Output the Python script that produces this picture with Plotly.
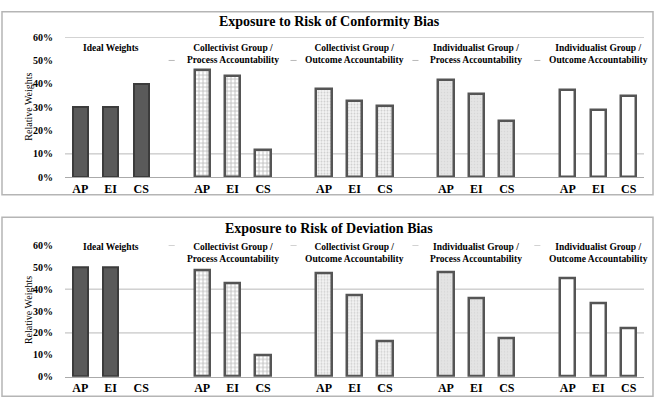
import plotly.graph_objects as go

categories = ["AP", "EI", "CS"]
groups = [["Ideal Weights"],
          ["Collectivist Group /", "Process Accountability"],
          ["Collectivist Group /", "Outcome Accountability"],
          ["Individualist Group /", "Process Accountability"],
          ["Individualist Group /", "Outcome Accountability"]]

conformity = [
    [0.30, 0.30, 0.40],
    [0.458, 0.435, 0.115],
    [0.378, 0.326, 0.304],
    [0.414, 0.354, 0.240],
    [0.371, 0.286, 0.349],
]
deviation = [
    [0.50, 0.50, 0.0],
    [0.486, 0.425, 0.099],
    [0.474, 0.372, 0.160],
    [0.476, 0.357, 0.176],
    [0.449, 0.333, 0.222],
]
titles = ["Exposure to Risk of Conformity Bias", "Exposure to Risk of Deviation Bias"]
y_ticks = [0, 0.1, 0.2, 0.3, 0.4, 0.5, 0.6]
y_ticktext = ["0%", "10%", "20%", "30%", "40%", "50%", "60%"]
grid_top = [0.1, 0.5, 0.6]
grid_bottom = [0.2, 0.4, 0.6]

W, H = 665, 409
SERIF = "Liberation Serif"
EDGE = "#555555"

styles = [
    dict(color="#5a5a5a", line=dict(color="#3c3c3c", width=2)),
    dict(color="white", line=dict(color=EDGE, width=2.5),
         pattern=dict(shape="+", size=4, solidity=0.4, fgcolor="#7a7a7a", bgcolor="white")),
    dict(color="white", line=dict(color=EDGE, width=2.5),
         pattern=dict(shape=".", size=3, solidity=0.35, fgcolor="#a8a8a8", bgcolor="#f4f4f4")),
    dict(color="#e2e2e2", line=dict(color=EDGE, width=2.5),
         pattern=dict(shape=".", size=3, solidity=0.2, fgcolor="#c8c8c8", bgcolor="#e4e4e4")),
    dict(color="white", line=dict(color=EDGE, width=2.5)),
]

def py(p):
    return 1 - p / H

fig = go.Figure()

tickvals = []
ticktext = []
for g in range(len(groups)):
    for i, c in enumerate(categories):
        tickvals.append(g * 4 + i)
        ticktext.append(c)

panels = [(conformity, "x", "y"), (deviation, "x2", "y2")]
for data, xa, ya in panels:
    for g, vals in enumerate(data):
        st = dict(styles[g])
        lw = st["line"]["width"]
        st["line"] = dict(color=st["line"]["color"],
                          width=[lw if v > 0 else 0 for v in vals])
        fig.add_trace(go.Bar(
            x=[g * 4 + i for i in range(3)], y=vals, width=0.5,
            marker=st, xaxis=xa, yaxis=ya, showlegend=False,
            hoverinfo="skip"))

xdom = [65 / W, 644 / W]
axis_x = dict(range=[-0.5, 18.5], domain=xdom, tickvals=tickvals, ticktext=ticktext,
              showgrid=False, zeroline=False, showline=True, linecolor="#aaaaaa",
              linewidth=1, tickfont=dict(family=SERIF, size=12, color="black", weight="bold"),
              ticks="", ticklabelstandoff=0, fixedrange=True)
axis_y = dict(range=[0, 0.6], tickvals=y_ticks, ticktext=y_ticktext, showgrid=False,
              zeroline=False, showline=False,
              tickfont=dict(family=SERIF, size=10, color="black", weight="bold"),
              ticks="", ticklabelstandoff=11, fixedrange=True)

fig.update_layout(
    width=W, height=H, margin=dict(l=0, r=0, t=0, b=0),
    paper_bgcolor="white", plot_bgcolor="white", bargap=0,
    xaxis=dict(axis_x, anchor="y"),
    yaxis=dict(axis_y, domain=[py(177), py(33)], anchor="x"),
    xaxis2=dict(axis_x, anchor="y2"),
    yaxis2=dict(axis_y, domain=[py(382), py(247)], anchor="x2"),
)

shapes = []
for top, bot in [(7, 195), (218, 402)]:
    shapes.append(dict(type="rect", xref="paper", yref="paper", x0=2 / W, x1=653 / W,
                       y0=py(bot), y1=py(top), line=dict(color="#b5b5b5", width=1.5),
                       layer="below"))
for gl, xr, yr in [(grid_top, "x domain", "y"), (grid_bottom, "x2 domain", "y2")]:
    for v in gl:
        shapes.append(dict(type="line", xref=xr, yref=yr, x0=0, x1=1, y0=v, y1=v,
                           line=dict(color="#b8b8b8", width=1), layer="below"))

annotations = []
half = 1.9
for t, tp, l1, ytitle, xr in [(titles[0], 17, 43, 105, "x"), (titles[1], 230, 248, 314, "x2")]:
    annotations.append(dict(text="<b>" + t + "</b>", xref="paper", yref="paper",
                            x=329 / W, y=py(tp), yanchor="middle", showarrow=False,
                            font=dict(family=SERIF, size=14, color="black")))
    annotations.append(dict(text="Relative Weights", xref="paper", yref="paper",
                            x=21 / W, y=py(ytitle), yanchor="middle", textangle=-90,
                            showarrow=False,
                            font=dict(family=SERIF, size=10, color="black")))
    for g, lines in enumerate(groups):
        c = g * 4 + 1
        shapes.append(dict(type="rect", xref=xr, yref="paper", x0=c - half, x1=c + half,
                           y0=py(l1 + 18), y1=py(l1 - 6), fillcolor="white",
                           line=dict(width=0), layer="below"))
        annotations.append(dict(text="<br>".join("<b>" + s + "</b>" for s in lines),
                                xref=xr, yref="paper", x=c, y=py(l1 - 6),
                                yanchor="top", align="center", showarrow=False,
                                font=dict(family=SERIF, size=9.5, color="black")))
fig.update_layout(shapes=shapes, annotations=annotations)

fig.write_html("out.html")
